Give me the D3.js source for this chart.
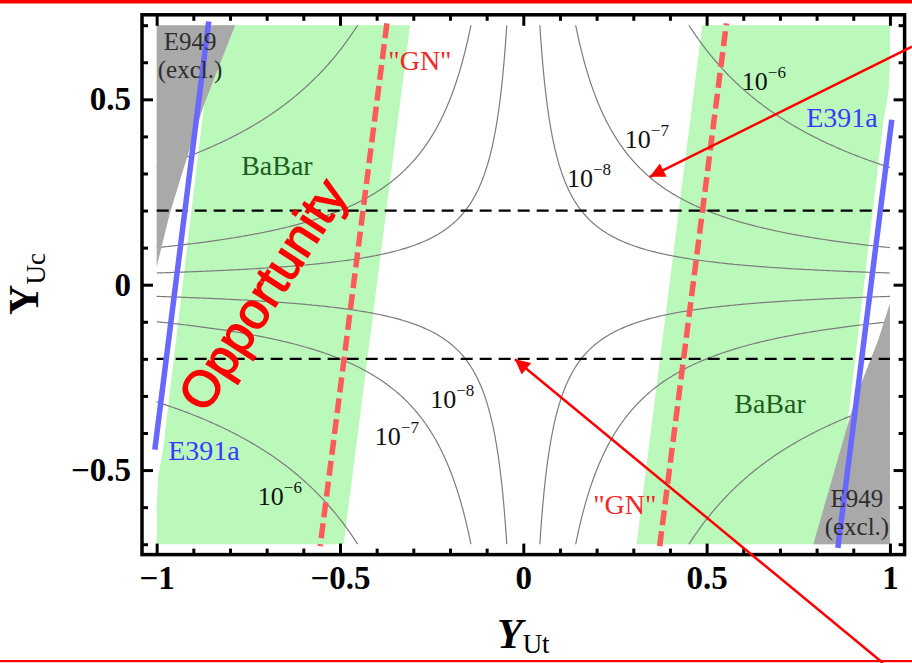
<!DOCTYPE html>
<html><head><meta charset="utf-8">
<script src="https://cdn.jsdelivr.net/npm/d3@7"></script>
<style>
html,body{margin:0;padding:0;background:#fff;}
svg{display:block;}
</style></head>
<body>
<svg id="chart" width="912" height="663"></svg>
<script>
// ---------- data ----------
const xMajorTicks  = [-1, -0.5, 0, 0.5, 1];
const xMajorLabels = ["\u22121", "\u22120.5", "0", "0.5", "1"];
const xMinorTicks  = [-0.9,-0.8,-0.7,-0.6,-0.4,-0.3,-0.2,-0.1,0.1,0.2,0.3,0.4,0.6,0.7,0.8,0.9];
const yMajorTicks  = [-0.5, 0, 0.5];
const yMajorLabels = ["\u22120.5", "0", "0.5"];
const yMinorTicks  = [-0.7,-0.6,-0.4,-0.3,-0.2,-0.1,0.1,0.2,0.3,0.4,0.6,0.7];

// branching-ratio contour levels, Br = brNorm * (Y_Ut * Y_Uc)^2
const brNorm      = 1e-5;
const brLevels    = [1e-8, 1e-7, 1e-6];
const brExponents = ["\u22128", "\u22127", "\u22126"];

// allowed / excluded regions (Y_Ut, Y_Uc)
const babarLeft  = [[-0.845,0.7],[-0.982,-0.44],[-0.996,-0.52],[-1.0,-0.6],[-1.0,-0.7],[-0.49,-0.7],[-0.309,0.7]];
const babarRight = [[0.309,-0.7],[0.488,0.7],[1.0,0.7],[1.0,0.6],[0.996,0.52],[0.982,0.44],[0.845,-0.7]];
const e949Left   = [[-1,0.7],[-0.786,0.7],[-0.873,0.48],[-0.928,0.309],[-0.964,0.193],[-1.0,0.048]];
const e949Right  = [[1,-0.7],[0.791,-0.7],[0.891,-0.356],[0.918,-0.275],[0.968,-0.149],[1.0,-0.05]];
const e391aLeft  = [[-0.858,0.71],[-1.005,-0.445]];
const e391aRight = [[1.005,0.445],[0.858,-0.71]];
const gnLeft     = [[-0.372,0.705],[-0.554,-0.705]];
const gnRight    = [[0.372,-0.705],[0.554,0.705]];
const ucCuts     = [0.2, -0.2];

// contour label anchors: [Y_Ut, Y_Uc, level index]
const levelLabels = [
  [0.119, 0.264, 0], [0.277, 0.369, 1], [0.596, 0.525, 2],
  [-0.254, -0.333, 0], [-0.405, -0.432, 1], [-0.724, -0.594, 2]
];

// ---------- layout ----------
const W = 912, H = 663;
const svg = d3.select("#chart");
const x = d3.scaleLinear().domain([-1.04, 1.04]).range([142, 904.6]);
const y = d3.scaleLinear().domain([-0.728, 0.728]).range([554.6, 14.8]);
const serif = "'Liberation Serif','Times New Roman',serif";

svg.append("rect").attr("width", W).attr("height", H).attr("fill", "#fff");

const defs = svg.append("defs");
defs.append("clipPath").attr("id", "plotClip").append("rect")
  .attr("x", x(-1)).attr("y", y(0.7))
  .attr("width", x(1) - x(-1)).attr("height", y(-0.7) - y(0.7));

const line = d3.line().x(d => x(d[0])).y(d => y(d[1]));
const area = d => line(d) + "Z";

const plot = svg.append("g");

// BaBar bands
plot.selectAll("path.babar").data([babarLeft, babarRight]).join("path")
  .attr("class", "babar").attr("d", area).attr("fill", "#bbf9bb");

// Br contours
const gx0 = -1.05, gy0 = -0.75, step = 0.005;
const nx = Math.round(2.1 / step) + 1, ny = Math.round(1.5 / step) + 1;
const grid = new Float64Array(nx * ny);
for (let j = 0; j < ny; j++) for (let i = 0; i < nx; i++) {
  const u = gx0 + i * step, v = gy0 + j * step;
  grid[j * nx + i] = brNorm * (u * v) * (u * v);
}
const contours = d3.contours().size([nx, ny]).thresholds(brLevels)(grid);
const toScreen = d3.geoTransform({
  point(px, py) { this.stream.point(x(gx0 + (px - 0.5) * step), y(gy0 + (py - 0.5) * step)); }
});
plot.append("g").attr("clip-path", "url(#plotClip)")
  .selectAll("path").data(contours).join("path")
  .attr("d", d3.geoPath(toScreen))
  .attr("fill", "none").attr("stroke", "#7c7c7c").attr("stroke-width", 1.2);

// E949 excluded
plot.selectAll("path.e949").data([e949Left, e949Right]).join("path")
  .attr("class", "e949").attr("d", area).attr("fill", "#a9a9a9");

// |Y_Uc| = 0.2 lines
plot.selectAll("line.cut").data(ucCuts).join("line")
  .attr("class", "cut")
  .attr("x1", x(-1)).attr("x2", x(1)).attr("y1", d => y(d)).attr("y2", d => y(d))
  .attr("stroke", "#000").attr("stroke-width", 2.2).attr("stroke-dasharray", "12,7");

// "GN" lines
plot.selectAll("path.gn").data([gnLeft, gnRight]).join("path")
  .attr("class", "gn").attr("d", line).attr("fill", "none")
  .attr("stroke", "#ff5a5a").attr("stroke-width", 5.5).attr("stroke-dasharray", "15,6");

// E391a lines
plot.selectAll("path.e391").data([e391aLeft, e391aRight]).join("path")
  .attr("class", "e391").attr("d", line).attr("fill", "none")
  .attr("stroke", "#6868ff").attr("stroke-width", 5.5);

// contour labels
levelLabels.forEach(([u, v, k]) => {
  const t = plot.append("text").attr("x", x(u)).attr("y", y(v))
    .attr("font-family", serif).attr("font-size", 26).attr("fill", "#111");
  t.append("tspan").text("10");
  t.append("tspan").attr("dy", -12).attr("font-size", 17).text(brExponents[k]);
});

// region labels (one text element per line)
function label(u, v, lines, color, gap, size) {
  lines.forEach((s, i) => plot.append("text")
    .attr("x", x(u)).attr("y", y(v) + i * (gap || 0))
    .attr("text-anchor", "middle").attr("font-family", serif)
    .attr("font-size", size || 28).attr("fill", color).text(s));
}
label(-0.909, 0.632, ["E949", "(excl.)"], "#2e2e2e", 27.5, 25);
label(0.910, -0.600, ["E949", "(excl.)"], "#2e2e2e", 27.5, 25);
label(-0.672, 0.296, ["BaBar"], "#1d5e1d");
label(0.673, -0.346, ["BaBar"], "#1d5e1d");
label(-0.282, 0.579, ["\"GN\""], "#f02828");
label(0.277, -0.618, ["\"GN\""], "#f02828");
label(0.869, 0.425, ["E391a"], "#3a3aff");
label(-0.871, -0.473, ["E391a"], "#3a3aff");

// frame
svg.append("rect").attr("x", x(-1.04)).attr("y", y(0.728))
  .attr("width", x(1.04) - x(-1.04)).attr("height", y(-0.728) - y(0.728))
  .attr("fill", "none").attr("stroke", "#000").attr("stroke-width", 3.5);

// ticks (pointing inward on all four sides)
function ticks(axis, pos, vals, size, fmt) {
  const g = svg.append("g").attr("transform", pos)
    .call(axis.tickValues(vals).tickSize(size).tickPadding(11).tickFormat(fmt));
  g.select(".domain").remove();
  g.selectAll(".tick line").attr("stroke", "#000").attr("stroke-width", 3);
  g.selectAll(".tick text").attr("font-family", serif).attr("font-weight", "bold")
    .attr("font-size", 33).attr("fill", "#000");
  return g;
}
const posBottom = `translate(0,${y(-0.728)})`, posTop = `translate(0,${y(0.728)})`;
const posLeft = `translate(${x(-1.04)},0)`, posRight = `translate(${x(1.04)},0)`;
ticks(d3.axisBottom(x), posBottom, xMajorTicks, -11, (d, i) => xMajorLabels[i]);
ticks(d3.axisBottom(x), posBottom, xMinorTicks, -6, () => "");
ticks(d3.axisTop(x), posTop, xMajorTicks, -11, () => "");
ticks(d3.axisTop(x), posTop, xMinorTicks, -6, () => "");
ticks(d3.axisLeft(y), posLeft, yMajorTicks, -11, (d, i) => yMajorLabels[i]);
ticks(d3.axisLeft(y), posLeft, yMinorTicks, -6, () => "");
ticks(d3.axisRight(y), posRight, yMajorTicks, -11, () => "");
ticks(d3.axisRight(y), posRight, yMinorTicks, -6, () => "");

// axis titles
const xt = svg.append("text").attr("x", 523.3).attr("y", 648)
  .attr("text-anchor", "middle").attr("font-family", serif).attr("fill", "#000");
xt.append("tspan").attr("font-size", 42).attr("font-weight", "bold").attr("font-style", "italic").text("Y");
xt.append("tspan").attr("font-size", 27).attr("dy", 5).text("Ut");

const yt = svg.append("text").attr("transform", "translate(38,284) rotate(-90)")
  .attr("text-anchor", "middle").attr("font-family", serif).attr("fill", "#000");
yt.append("tspan").attr("font-size", 42).attr("font-weight", "bold").text("Y");
yt.append("tspan").attr("font-size", 27).attr("dy", 7).text("Uc");

// "Opportunity" note
svg.append("text")
  .attr("transform", `translate(${x(-0.706)},${y(-0.03)}) rotate(-57)`)
  .attr("text-anchor", "middle").attr("dy", "0.3em")
  .attr("font-family", "'Liberation Sans',Arial,sans-serif").attr("font-size", 51)
  .attr("fill", "#ff0000").attr("stroke", "#ff0000").attr("stroke-width", 1.3)
  .text("Opportunity");

// red pointer arrows and rules
defs.append("marker").attr("id", "head").attr("viewBox", "0 0 10 10")
  .attr("refX", 10).attr("refY", 5).attr("markerWidth", 7.5).attr("markerHeight", 6)
  .attr("markerUnits", "strokeWidth").attr("orient", "auto")
  .append("path").attr("d", "M0,0L10,5L0,10Z").attr("fill", "#ff0000");
const pointers = [[[1.06, 0.642], [0.345, 0.291]], [[0.981, -1.0205], [-0.023, -0.201]]];
svg.selectAll("path.pointer").data(pointers).join("path")
  .attr("class", "pointer").attr("d", line).attr("fill", "none")
  .attr("stroke", "#ff0000").attr("stroke-width", 2.5).attr("marker-end", "url(#head)");
svg.append("rect").attr("x", 0).attr("y", 0).attr("width", W).attr("height", 3.5).attr("fill", "#ff0000");
svg.append("rect").attr("x", 0).attr("y", 660).attr("width", W).attr("height", 2.2).attr("fill", "#ff0000");
</script>
</body></html>
